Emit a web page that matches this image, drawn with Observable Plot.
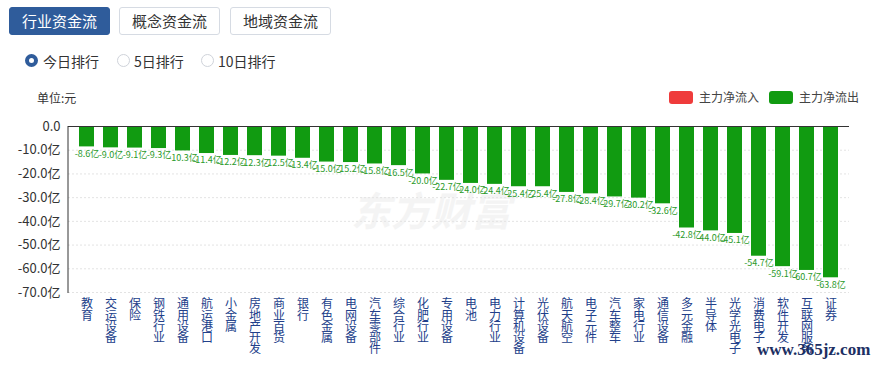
<!DOCTYPE html>
<html><head><meta charset="utf-8">
<script src="https://cdn.jsdelivr.net/npm/d3@7"></script>
<script src="https://cdn.jsdelivr.net/npm/@observablehq/plot@0.6"></script>
<style>
body{margin:0;width:879px;height:366px;overflow:hidden;background:#fff;font-family:"Noto Sans CJK SC","Noto Sans",sans-serif;position:relative}
.btn{position:absolute;top:7px;height:26px;width:99px;border:1px solid #d6dbe3;border-radius:3px;font-size:15px;line-height:26px;text-align:center;color:#333;box-sizing:content-box}
.btn.active{background:#2f5c9b;border-color:#2f5c9b;color:#fff}
.radio{position:absolute;top:54px;width:13px;height:13px;border-radius:50%;border:1px solid #cfd3da;box-sizing:border-box;background:#fff}
.radio.on{border:4px solid #2f5c9b}
.rlabel{position:absolute;top:51px;font-size:14px;line-height:20px;color:#333}
#unit{position:absolute;left:37px;top:89px;font-size:12px;color:#333}
.lg{position:absolute;top:91px;width:24px;height:13px;border-radius:3px}
.lgt{position:absolute;top:88px;font-size:12px;color:#444;line-height:18px}
#chart{position:absolute;left:0;top:80px}
#wm{position:absolute;left:757px;top:340px;font-family:"Liberation Serif","DejaVu Serif",serif;font-size:17px;color:#1c2f63;font-weight:bold;white-space:nowrap}
</style></head><body>
<div class="btn active" style="left:9px">行业资金流</div>
<div class="btn" style="left:119px">概念资金流</div>
<div class="btn" style="left:230px">地域资金流</div>
<div class="radio on" style="left:25px"></div><div class="rlabel" style="left:43px">今日排行</div>
<div class="radio" style="left:117px"></div><div class="rlabel" style="left:134px">5日排行</div>
<div class="radio" style="left:201px"></div><div class="rlabel" style="left:218px">10日排行</div>
<div id="unit">单位:元</div>
<div class="lg" style="left:669px;background:#ef3b3b"></div><div class="lgt" style="left:699px">主力净流入</div>
<div class="lg" style="left:769px;background:#119b11"></div><div class="lgt" style="left:799px">主力净流出</div>
<div id="chart"></div>
<div id="wm">www.365jz.com</div>
<script>
const categories = ["教育","交运设备","保险","钢铁行业","通用设备","航运港口","小金属","房地产开发","商业百货","银行","有色金属","电网设备","汽车零部件","综合行业","化肥行业","专用设备","电池","电力行业","计算机设备","光伏设备","航天航空","电子元件","汽车整车","家电行业","通信设备","多元金融","半导体","光学光电子","消费电子","软件开发","互联网服务","证券"];
const netFlow = [-8.6,-9.0,-9.1,-9.3,-10.3,-11.4,-12.2,-12.3,-12.5,-13.4,-15.0,-15.2,-15.8,-16.5,-20.0,-22.7,-24.0,-24.4,-25.4,-25.4,-27.8,-28.4,-29.7,-30.2,-32.6,-42.8,-44.0,-45.1,-54.7,-59.1,-60.7,-63.8];
const yTicks = [0,-10,-20,-30,-40,-50,-60,-70];

const data = categories.map((c,i)=>({name:c, value:netFlow[i]}));

// left axis line drawn through the y scale
function leftAxisLine(index, scales, values, dimensions) {
  const g = d3.create("svg:g");
  g.append("line")
    .attr("x1", dimensions.marginLeft).attr("x2", dimensions.marginLeft)
    .attr("y1", scales.y(0)).attr("y2", scales.y(-70) + 1)
    .attr("stroke", "#333");
  return g.node();
}

const chart = Plot.plot({
  width: 879, height: 286,
  marginTop: 46, marginLeft: 68, marginRight: 30, marginBottom: 74,
  style: {fontFamily: '"Noto Sans CJK SC","Noto Sans",sans-serif', fontSize: "13px", background: "transparent", color: "#333"},
  x: {domain: categories, padding: 0.38, axis: null},
  y: {domain: [-70, 0], axis: null},
  marks: [
    Plot.text(["东方财富"], {frameAnchor: "middle", dx: -28, dy: 4, fontSize: 40, fontWeight: "bold", fill: "#f4f4f4", fontStyle: "italic"}),
    Plot.gridY(yTicks.filter(d=>d!==0), {stroke: "#e3e3e3", strokeOpacity: 1, strokeDasharray: "2,2"}),
    Plot.barY(data, {x: "name", y: "value", fill: "#119b11"}),
    Plot.ruleY([0], {stroke: "#333", strokeWidth: 1}),
    leftAxisLine,
    Plot.axisY({ticks: yTicks, tickSize: 0, tickPadding: 8, label: null, fill: "#333", fontSize: 13, tickFormat: d => d === 0 ? "0.0" : d.toFixed(1) + "亿"}),
    Plot.text(data, {x: "name", y: "value", text: d => d.value.toFixed(1) + "亿", dy: 7, fontSize: 9, fill: "#2a9a2a"}),
    Plot.text(categories, {x: d => d, frameAnchor: "bottom", lineAnchor: "top", dy: 8, text: d => d.split("").join("\n"), lineHeight: 0.93, fontSize: 12, fill: "#22408a"})
  ]
});
document.getElementById("chart").appendChild(chart);
</script>
</body></html>
